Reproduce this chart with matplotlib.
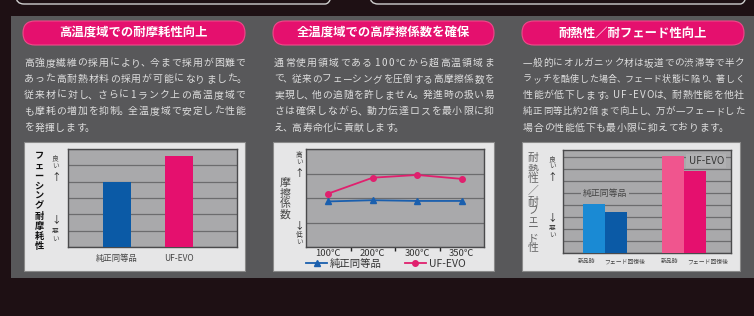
import matplotlib
matplotlib.use("Agg")
import matplotlib.pyplot as plt
from matplotlib.patches import FancyBboxPatch, Rectangle

plt.rcParams['font.family'] = ['Noto Sans CJK JP', 'DejaVu Sans']

# ---- data ----
titles = ["高温度域での耐摩耗性向上", "全温度域での高摩擦係数を確保", "耐熱性／耐フェード性向上"]
body1 = ["高強度繊維の採用により、今まで採用が困難で",
         "あった高耐熱材料の採用が可能になりました。",
         "従来材に対し、さらに1ランク上の高温度域で",
         "も摩耗の増加を抑制。全温度域で安定した性能",
         "を発揮します。"]
body2 = ["通常使用領域である100℃から超高温領域ま",
         "で、従来のフェーシングを圧倒する高摩擦係数を",
         "実現し、他の追随を許しません。発進時の扱い易",
         "さは確保しながら、動力伝達ロスを最小限に抑",
         "え、高寿命化に貢献します。"]
body3 = ["一般的にオルガニック材は坂道での渋滞等で半ク",
         "ラッチを酷使した場合、フェード状態に陥り、著しく",
         "性能が低下します。UF-EVOは、耐熱性能を他社",
         "純正同等比約2倍まで向上し、万が一フェードした",
         "場合の性能低下も最小限に抑えております。"]

wear_labels = ["純正同等品", "UF-EVO"]
wear_values = [4.0, 5.57]

temps = ["100℃", "200℃", "300℃", "350℃"]
mu_oem = [1.86, 1.91, 1.88, 1.88]
mu_evo = [2.18, 2.83, 2.94, 2.78]

fade_labels = ["新品時", "フェード回復後", "新品時", "フェード回復後"]
fade_oem = [4.07, 3.46]
fade_evo = [8.1, 6.87]

# ---- colours ----
BG = '#1e1014'
PANEL = '#58585a'
PINK = '#e5106e'
BLUE = '#0b5aa6'
PLOT_BG = '#a9a9ab'
GRID = '#6c6c6e'
BOX = '#e6e6e7'

W, H = 754, 316
fig = plt.figure(figsize=(W / 100, H / 100), dpi=100, facecolor=BG)


def box(x0, y0, x1, y1):
    return [x0 / W, 1 - y1 / H, (x1 - x0) / W, (y1 - y0) / H]


bg = fig.add_axes([0, 0, 1, 1])
bg.set_xlim(0, W)
bg.set_ylim(H, 0)
bg.axis('off')

# outlines of boxes above
for x0, x1 in [(16, 333), (370, 748)]:
    bg.add_patch(FancyBboxPatch((x0, -30), x1 - x0, 34,
                                boxstyle='round,pad=0,rounding_size=8',
                                fc='none', ec='#cfcfcf', lw=1))

bg.add_patch(Rectangle((11, 16), W - 11, 262, fc=PANEL, ec='none'))


def char_w(ch):
    if ch in '、。':
        return 0.7
    if ch == '-':
        return 0.5
    if ord(ch) < 128:
        return 0.65
    return 1.0


def justified(x0, x1, y, line, fs, justify=True, **kw):
    weights = [char_w(c) for c in line]
    n = len(line)
    # shrink the font when the line would not fit with a small gap
    fs = min(fs, (x1 - x0 - 0.5 * (n - 1)) / sum(weights) * 72 / 100)
    em = fs * 100 / 72
    ws = [w * em for w in weights]
    gap = (x1 - x0 - sum(ws)) / (n - 1) if justify else 0.5
    x = x0
    for c, w in zip(line, ws):
        bg.text(x + w / 2, y, c, ha='center', va='baseline', fontsize=fs, **kw)
        x += w + gap


cols = [(23, 245), (273, 494), (522, 744)]
bodies = [body1, body2, body3]
for (x0, x1), t, body in zip(cols, titles, bodies):
    bg.add_patch(FancyBboxPatch((x0, 21), x1 - x0, 24,
                                boxstyle='round,pad=0,rounding_size=12',
                                fc=PINK, ec='#f04a8a', lw=0.8))
    bg.text((x0 + x1) / 2, 33.5, t, color='white', fontsize=8.9,
            fontweight='bold', ha='center', va='center')
    for i, line in enumerate(body):
        justified(x0 + 1, x1, 62 + 16.2 * i + 3.7, line, 7.1,
                  justify=(i < len(body) - 1), color='#dedede')

# chart boxes
for x0, x1 in [(24, 245), (273, 494), (522, 740)]:
    bg.add_patch(Rectangle((x0, 142), x1 - x0, 129, fc=BOX, ec='#8a8a8a', lw=0.8))


def vtext(x, ys, s, **kw):
    for y, ch in zip(ys, s):
        bg.text(x, y, ch, ha='center', va='center', **kw)


def style(ax, ymax):
    ax.set_facecolor(PLOT_BG)
    ax.set_ylim(0, ymax)
    ax.set_yticks(range(int(ymax) + 1))
    ax.yaxis.grid(True, color=GRID, lw=0.9)
    ax.set_axisbelow(True)
    ax.tick_params(axis='y', length=0, labelleft=False)
    for sp in ax.spines.values():
        sp.set_color('#4a4a4c')
        sp.set_linewidth(1)


# ---- panel 1 ----
ax1 = fig.add_axes(box(68, 149, 237, 247))
style(ax1, 6)
ax1.bar(range(len(wear_values)), wear_values, width=0.45, color=[BLUE, PINK], zorder=3)
ax1.set_xlim(-0.79, 1.94)
ax1.set_xticks(range(len(wear_labels)))
ax1.set_xticklabels(wear_labels, fontsize=6, color='#444444')
ax1.tick_params(axis='x', length=0, pad=5)

vtext(39, [156 + 10 * i for i in range(10)], "フェーシング耐摩耗性",
      fontsize=6.6, fontweight='bold', color='#111111')
vtext(55, [158, 166], "良い", fontsize=4.8, color='#444444')
bg.text(56, 177, "↑", ha='center', va='center', fontsize=7, color='#222222')
bg.text(56, 219, "↓", ha='center', va='center', fontsize=7, color='#222222')
vtext(55, [231, 239], "悪い", fontsize=4.8, color='#444444')

# ---- panel 2 ----
ax2 = fig.add_axes(box(306, 149, 484, 247))
style(ax2, 4)
xs = range(len(temps))
l1, = ax2.plot(xs, mu_oem, color='#1a5fae', lw=1.3, marker='^', ms=4.5, zorder=3)
l2, = ax2.plot(xs, mu_evo, color='#e0206e', lw=1.3, marker='o', ms=4, zorder=3)
ax2.set_xlim(-0.5, 3.5)
ax2.set_xticks(list(xs))
ax2.set_xticklabels(temps, fontsize=6.8, color='#333333')
ax2.set_xticks([0.5, 1.5, 2.5], minor=True)
ax2.tick_params(axis='x', which='major', length=0, pad=1.5)
ax2.tick_params(axis='x', which='minor', length=3, width=1, color='#222222', direction='out')
fig.legend([l1, l2], ["純正同等品", "UF-EVO"], loc='center',
           bbox_to_anchor=(386 / W, 1 - 264 / H), ncol=2, frameon=False,
           fontsize=7.5, handlelength=2.0, columnspacing=2.2, handletextpad=0.3,
           labelcolor='#333333')

vtext(285, [183, 193.5, 204, 214.5], "摩擦係数", fontsize=7.8, color='#444444')
vtext(299, [155, 162], "高い", fontsize=4.8, color='#444444')
bg.text(299, 173, "↑", ha='center', va='center', fontsize=7, color='#222222')
bg.text(299, 225, "↓", ha='center', va='center', fontsize=7, color='#222222')
vtext(299, [235, 242], "低い", fontsize=4.8, color='#444444')

# ---- panel 3 ----
ax3 = fig.add_axes(box(563, 150, 731, 253))
style(ax3, 8.6)
ax3.set_yticks(range(9))
pos = [0, 1, 3.6, 4.6]
ax3.bar(pos[:2], fade_oem, width=1.0, color=['#1a8ad4', BLUE], zorder=3)
ax3.bar(pos[2:], fade_evo, width=1.0, color=['#f0558e', PINK], zorder=3)
ax3.set_xlim(-1.41, 6.23)
ax3.set_xticks([-0.32, 1.41, 3.45, 5.18])
ax3.set_xticklabels(fade_labels, fontsize=4.2, color='#444444')
ax3.tick_params(axis='x', length=0, pad=4)
ax3.text(0.5, 5, "純正同等品", ha='center', va='center', fontsize=6.4, color='#444444',
         zorder=4, bbox=dict(fc=PLOT_BG, ec='none', pad=1))
ax3.text(4.3, 7.7, "UF-EVO", ha='left', va='center', fontsize=7.2, color='#333333',
         zorder=4, bbox=dict(fc='#b0b0b2', ec='none', pad=1.5))

vtext(533, [158, 169, 179, 191, 202, 211, 219.5, 228, 238, 248], "耐熱性／耐フェード性",
      fontsize=7.8, color='#666666')
vtext(552, [159, 166], "良い", fontsize=4.8, color='#444444')
bg.text(552, 177, "↑", ha='center', va='center', fontsize=7, color='#222222')
bg.text(552, 217, "↓", ha='center', va='center', fontsize=7, color='#222222')
vtext(552, [228, 235], "悪い", fontsize=4.8, color='#444444')

fig.savefig("out.png", dpi=100, facecolor=BG)
